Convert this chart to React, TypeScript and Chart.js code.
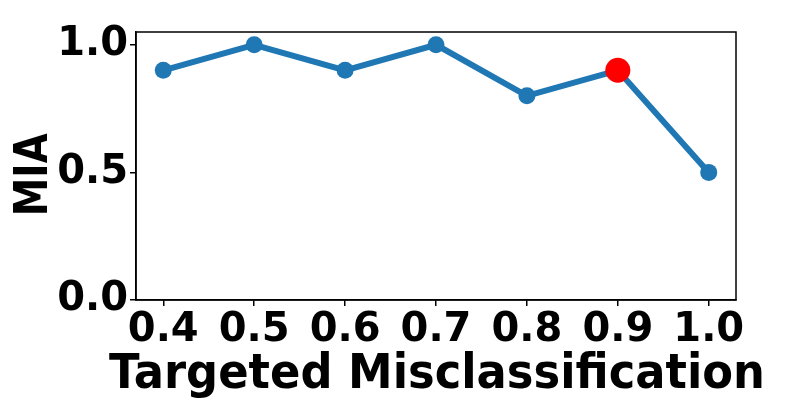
import React, { useEffect, useRef } from "react";
import { Chart, registerables } from "chart.js";

Chart.register(...registerables);

const xValues = [0.4, 0.5, 0.6, 0.7, 0.8, 0.9, 1.0];
const miaValues = [0.9, 1.0, 0.9, 1.0, 0.8, 0.9, 0.5];
const highlightIndex = 5;
const xTicks = [0.4, 0.5, 0.6, 0.7, 0.8, 0.9, 1.0];
const yTicks = [0.0, 0.5, 1.0];
const xTitle = "Targeted Misclassification";
const yTitle = "MIA";

const FONT = "'DejaVu Sans', sans-serif";

// draws text so that its ink box starts at `start` along the text direction and spans `len` px
function fitText(ctx: CanvasRenderingContext2D, text: string, size: number, len: number) {
  ctx.font = `bold ${size}px ${FONT}`;
  const m = ctx.measureText(text);
  const ink = m.actualBoundingBoxLeft + m.actualBoundingBoxRight;
  const sx = len / ink;
  ctx.scale(sx, 1);
  ctx.textAlign = "left";
  ctx.textBaseline = "alphabetic";
  ctx.fillStyle = "#000";
  ctx.fillText(text, m.actualBoundingBoxLeft, 0);
}

const frame = {
  id: "frame",
  afterDraw(chart: any) {
    const { ctx, chartArea: a } = chart;
    ctx.save();
    ctx.strokeStyle = "#000";
    ctx.lineWidth = 1.5;
    ctx.strokeRect(a.left, a.top, a.right - a.left, a.bottom - a.top);
    ctx.restore();

    // x axis title
    ctx.save();
    ctx.translate(109, 388);
    fitText(ctx, xTitle, 48, 653);
    ctx.restore();

    // y axis title (rotated)
    ctx.save();
    ctx.translate(47, 213);
    ctx.rotate(-Math.PI / 2);
    fitText(ctx, yTitle, 46, 80);
    ctx.restore();
  },
};

export default function App() {
  const ref = useRef<HTMLCanvasElement>(null);
  useEffect(() => {
    const chart = new Chart(ref.current!, {
      type: "line",
      data: {
        datasets: [
          {
            data: xValues.map((x, i) => ({ x, y: miaValues[i] })),
            borderColor: "#1f77b4",
            borderWidth: 6,
            pointBackgroundColor: xValues.map((_, i) => (i === highlightIndex ? "#ff0000" : "#1f77b4")),
            pointBorderColor: xValues.map((_, i) => (i === highlightIndex ? "#ff0000" : "#1f77b4")),
            pointRadius: xValues.map((_, i) => (i === highlightIndex ? 12.5 : 8.5)),
            pointBorderWidth: 0,
            tension: 0,
            clip: false as any,
          },
        ],
      },
      options: {
        animation: false,
        responsive: false,
        layout: { padding: { top: 32, right: 64, left: 0, bottom: 0 } },
        plugins: { legend: { display: false }, tooltip: { enabled: false } },
        scales: {
          x: {
            type: "linear",
            min: 0.37,
            max: 1.03,
            afterBuildTicks: (s: any) => {
              s.ticks = xTicks.map((v) => ({ value: v }));
            },
            afterFit: (s: any) => {
              s.height = 100;
            },
            ticks: {
              font: { family: FONT, size: 40, weight: "bold" },
              color: "#000",
              padding: 1,
              maxRotation: 0,
              autoSkip: false,
              callback: (v: any) => Number(v).toFixed(1),
            },
            grid: { drawOnChartArea: false, drawTicks: true, tickLength: 6, color: "#000", lineWidth: 1.5 },
            border: { display: true, color: "#000", width: 1.5 },
            title: { display: false },
          },
          y: {
            type: "linear",
            min: 0,
            max: 1.05,
            afterBuildTicks: (s: any) => {
              s.ticks = yTicks.map((v) => ({ value: v }));
            },
            afterFit: (s: any) => {
              s.width = 136;
            },
            ticks: {
              font: { family: FONT, size: 40, weight: "bold" },
              color: "#000",
              padding: 2,
              autoSkip: false,
              callback: (v: any) => Number(v).toFixed(1),
            },
            grid: { drawOnChartArea: false, drawTicks: true, tickLength: 6, color: "#000", lineWidth: 1.5 },
            border: { display: true, color: "#000", width: 1.5 },
            title: { display: false },
          },
        },
      },
      plugins: [frame],
    });
    return () => chart.destroy();
  }, []);
  return (
    <div style={{ position: "absolute", left: 0, top: 0, width: 800, height: 400, background: "#fff" }}>
      <canvas ref={ref} width={800} height={400} />
    </div>
  );
}
